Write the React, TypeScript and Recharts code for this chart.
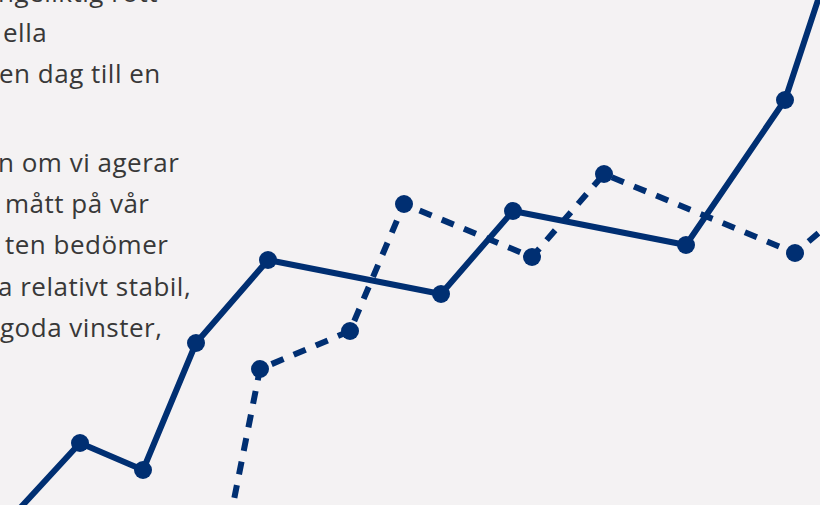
import React from "react";
import { LineChart, Line, XAxis, YAxis } from "recharts";

// period (x) and index value (y) for each series
const solidPeriods = [1, 8, 14.3, 19.6, 26.8, 44.1, 51.3, 68.6, 78.5, 85.5];
const solidValues = [-2.8, 12.4, 7, 32.4, 49, 42.2, 58.8, 52, 81, 123.4];

const dashedPeriods = [22.5, 26, 35, 40.4, 53.2, 60.4, 79.5, 86];
const dashedValues = [-8, 27.2, 34.8, 60.2, 49.6, 66.2, 50.4, 61.4];

const textLines = [
  "ngeliktig rött",
  "ella",
  "en dag till en",
  "n om vi agerar",
  "mått på vår",
  "ten bedömer",
  "a relativt stabil,",
  "goda vinster,",
];
const textX = [-2, 3, -1, -2, 5, 5, -2, 0];
const textY = [2, 42, 83, 172, 213, 254, 296, 337];

const solidData = solidPeriods.map((x, i) => ({ x, y: solidValues[i] }));
const dashedData = dashedPeriods.map((x, i) => ({ x, y: dashedValues[i] }));

const NAVY = "#002f72";

export default function App() {
  return (
    <div style={{ position: "relative", width: 820, height: 505, background: "#f4f2f3", overflow: "hidden" }}>
      <style>{`body{margin:0}`}</style>
      <svg width={820} height={505} style={{ position: "absolute", left: 0, top: 0 }}>
        {textLines.map((t, i) => (
          <text
            key={i}
            x={textX[i]}
            y={textY[i]}
            fontFamily="'Open Sans', sans-serif"
            fontSize={26}
            letterSpacing={0.5}
            fill="#383838"
          >
            {t}
          </text>
        ))}
      </svg>
      <div style={{ position: "absolute", left: 0, top: 0 }}>
        <LineChart width={820} height={505} margin={{ top: 0, right: 0, bottom: 0, left: 0 }}>
          <XAxis type="number" dataKey="x" domain={[0, 82]} hide allowDataOverflow />
          <YAxis type="number" domain={[0, 101]} hide allowDataOverflow />
          <Line
            data={dashedData}
            dataKey="y"
            stroke={NAVY}
            strokeWidth={6}
            strokeDasharray="13 11"
            dot={{ r: 9, fill: NAVY, stroke: "none" }}
            activeDot={false}
            isAnimationActive={false}
          />
          <Line
            data={solidData}
            dataKey="y"
            stroke={NAVY}
            strokeWidth={6}
            strokeLinejoin="round"
            dot={{ r: 9, fill: NAVY, stroke: "none" }}
            activeDot={false}
            isAnimationActive={false}
          />
        </LineChart>
      </div>
    </div>
  );
}
